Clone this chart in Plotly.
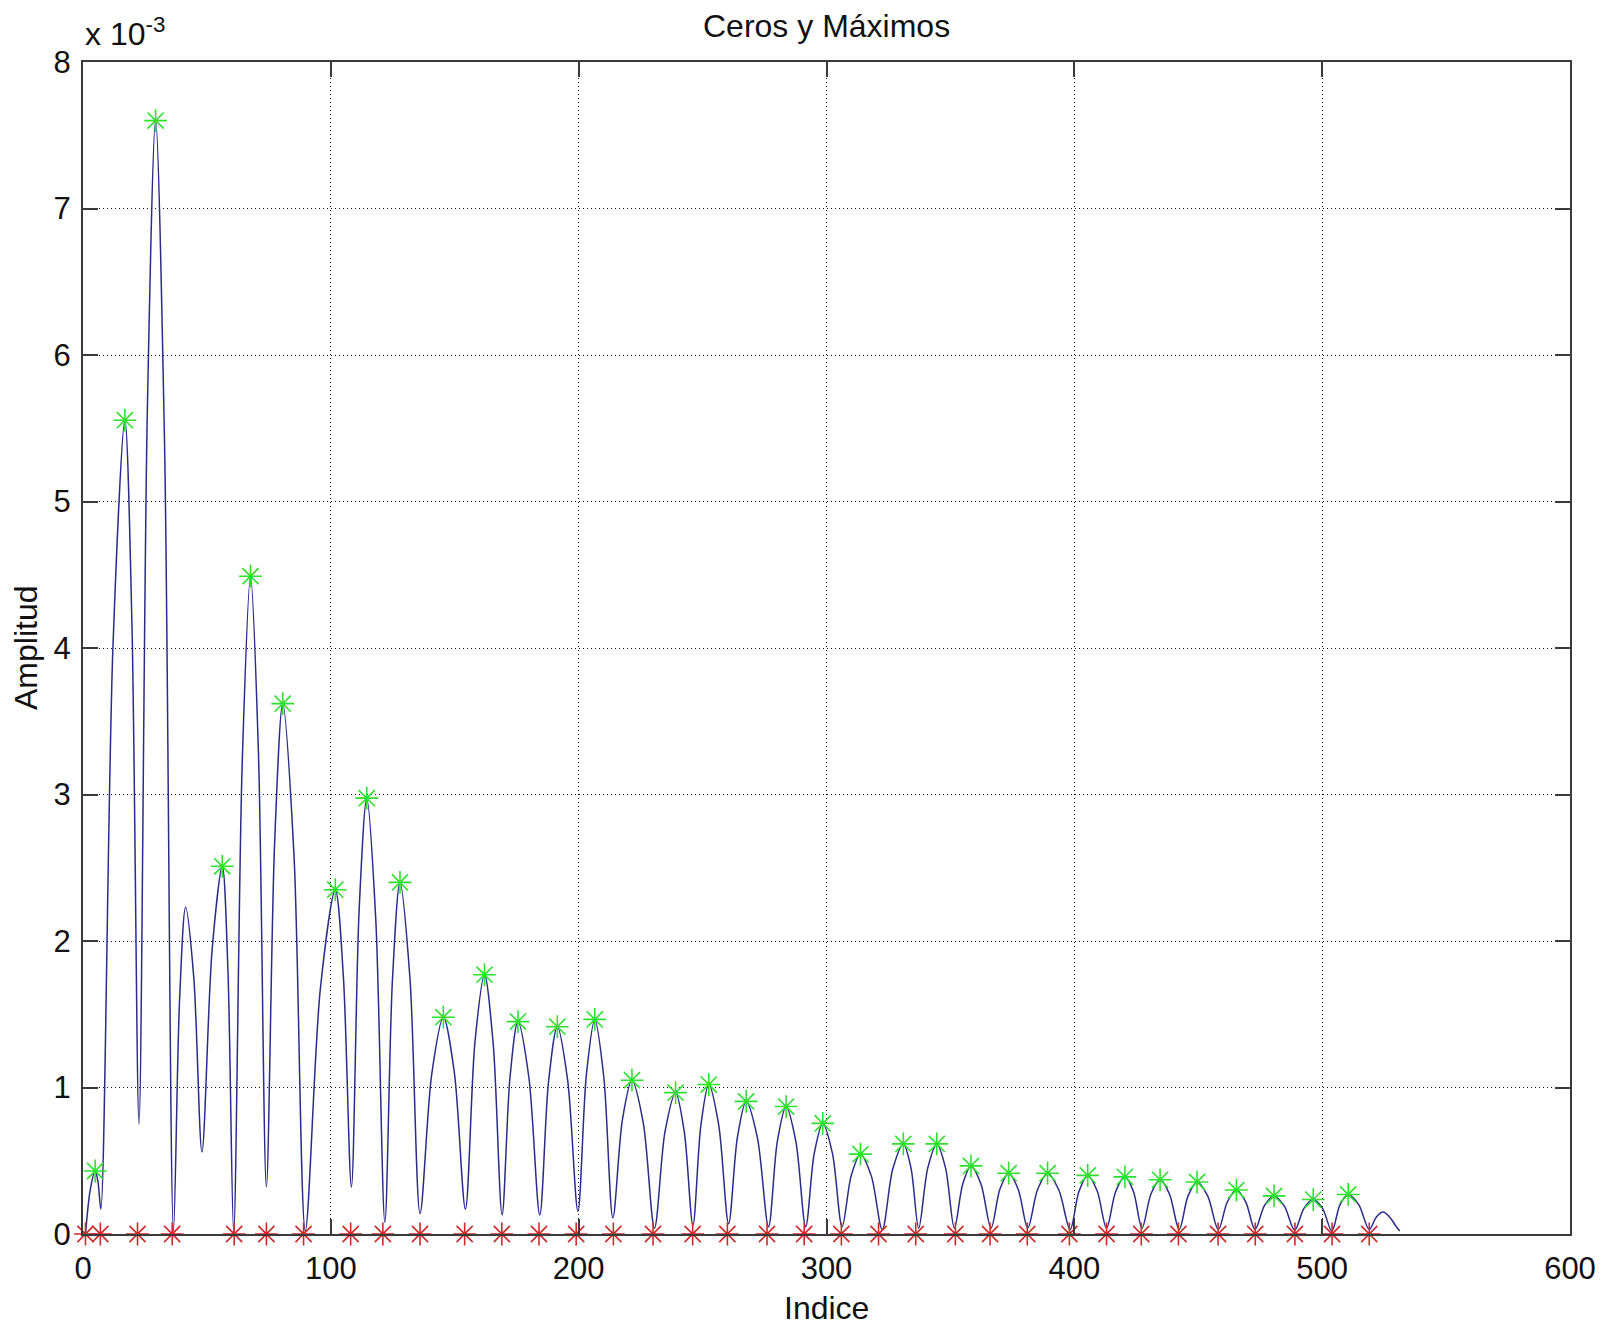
import plotly.graph_objects as go

# Rectified signal amplitude (units of 1e-3) versus sample index
signal_x = [
    1, 3.0, 4.9, 6.05, 7.2,
    12.05, 16.9, 19.75, 22.6,
    25.95, 29.3, 32.9, 36.5,
    38.95, 41.4, 44.7, 48.0,
    52.1, 56.2, 58.5, 60.8,
    64.2, 67.6, 70.8, 74.0,
    77.3, 80.6, 85.15, 89.7,
    95.75, 101.8, 105.05, 108.3,
    111.4, 114.5, 118.15, 121.8,
    124.85, 127.9, 131.95, 136.0,
    140.7, 145.4, 149.85, 154.3,
    158.15, 162.0, 165.55, 169.1,
    172.3, 175.5, 179.9, 184.3,
    187.85, 191.4, 195.55, 199.7,
    203.1, 206.5, 210.15, 213.8,
    217.65, 221.5, 226.05, 230.6,
    234.85, 239.1, 242.6, 246.1,
    249.3, 252.5, 256.5, 260.5,
    264.05, 267.6, 272.1, 276.6,
    280.15, 283.7, 287.65, 291.6,
    295.05, 298.5, 302.4, 306.3,
    310.0, 313.7, 318.1, 322.5,
    326.75, 331.0, 334.1, 337.2,
    340.85, 344.5, 348.05, 351.6,
    354.95, 358.3, 362.35, 366.4,
    369.95, 373.5, 377.35, 381.2,
    385.2, 389.2, 393.75, 398.3,
    401.85, 405.4, 409.2, 413.0,
    416.7, 420.4, 423.85, 427.3,
    430.95, 434.6, 438.45, 442.3,
    445.9, 449.5, 453.8, 458.1,
    461.75, 465.4, 469.15, 472.9,
    476.75, 480.6, 484.75, 488.9,
    492.65, 496.4, 500.15, 503.9,
    507.2, 510.5, 514.75, 519.0,
    521.8, 524.6, 527.5, 529.5, 531.3,
]
signal_y = [
    0.0, 0.31, 0.43, 0.355, 0.17,
    3.99, 5.555, 4.16, 0.75,
    5.61, 7.60, 5.40, 0.02,
    1.59, 2.23, 1.75, 0.56,
    1.94, 2.51, 1.79, 0.01,
    3.19, 4.49, 3.28, 0.32,
    2.66, 3.62, 2.58, 0.02,
    1.67, 2.35, 1.76, 0.32,
    2.205, 2.975, 2.14, 0.08,
    1.73, 2.40, 1.74, 0.14,
    1.09, 1.48, 1.10, 0.17,
    1.31, 1.77, 1.29, 0.13,
    1.07, 1.45, 1.07, 0.13,
    1.04, 1.415, 1.05, 0.155,
    1.085, 1.465, 1.07, 0.11,
    0.78, 1.05, 0.76, 0.04,
    0.70, 0.965, 0.70, 0.06,
    0.74, 1.02, 0.745, 0.07,
    0.66, 0.905, 0.66, 0.05,
    0.63, 0.87, 0.63, 0.05,
    0.55, 0.755, 0.55, 0.05,
    0.40, 0.545, 0.395, 0.03,
    0.445, 0.615, 0.45, 0.04,
    0.45, 0.615, 0.45, 0.04,
    0.34, 0.465, 0.34, 0.04,
    0.305, 0.415, 0.305, 0.04,
    0.305, 0.415, 0.30, 0.03,
    0.29, 0.40, 0.295, 0.04,
    0.29, 0.39, 0.29, 0.04,
    0.275, 0.37, 0.27, 0.03,
    0.26, 0.355, 0.26, 0.03,
    0.22, 0.30, 0.22, 0.03,
    0.195, 0.26, 0.19, 0.025,
    0.175, 0.235, 0.175, 0.02,
    0.20, 0.27, 0.20, 0.03,
    0.115, 0.15, 0.11, 0.06, 0.02,
]

# Detected maxima (green) and zero positions (red)
peak_x = [4.9, 16.9, 29.3, 56.2, 67.6, 80.6, 101.8, 114.5, 127.9, 145.4,
          162.0, 175.5, 191.4, 206.5, 221.5, 239.1, 252.5, 267.6, 283.7, 298.5,
          313.7, 331.0, 344.5, 358.3, 373.5, 389.2, 405.4, 420.4, 434.6, 449.5,
          465.4, 480.6, 496.4, 510.5]
peak_y = [0.43, 5.555, 7.60, 2.51, 4.49, 3.62, 2.35, 2.975, 2.40, 1.48,
          1.77, 1.45, 1.415, 1.465, 1.05, 0.965, 1.02, 0.905, 0.87, 0.755,
          0.545, 0.615, 0.615, 0.465, 0.415, 0.415, 0.40, 0.39, 0.37, 0.355,
          0.30, 0.26, 0.235, 0.27]
zero_x = [1, 7, 22, 36, 61, 74, 89, 108, 121, 136, 154, 169, 184, 199, 214,
          230, 246, 260, 276, 291, 306, 321, 336, 352, 366, 381, 398, 413, 427,
          442, 458, 473, 489, 504, 519]
zero_y = [0] * len(zero_x)

x_ticks = [0, 100, 200, 300, 400, 500, 600]
y_ticks = [0, 1, 2, 3, 4, 5, 6, 7, 8]

FONT = "Liberation Sans, Arial, Helvetica, sans-serif"
TICK_SIZE = 31
frame = "#3a3a3a"
GREEN = "#2ee02e"
RED = "#cc2a2a"

fig = go.Figure()
fig.add_trace(go.Scatter(
    x=signal_x, y=signal_y, mode="lines",
    line=dict(color="#2b2b8a", width=1.5, shape="spline", smoothing=0.9),
    hoverinfo="skip", showlegend=False,
))
fig.add_trace(go.Scatter(
    x=peak_x, y=peak_y, mode="markers", cliponaxis=False,
    marker=dict(symbol="asterisk-open", size=19, color=GREEN,
                line=dict(color=GREEN, width=1.6)),
    showlegend=False,
))
fig.add_trace(go.Scatter(
    x=zero_x, y=zero_y, mode="markers", cliponaxis=False,
    marker=dict(symbol="asterisk-open", size=19, color=RED,
                line=dict(color=RED, width=1.6)),
    showlegend=False,
))

axis_common = dict(
    showline=True, linecolor=frame, linewidth=2, mirror="ticks",
    ticks="inside", ticklen=15, tickwidth=1.5, tickcolor=frame,
    showgrid=True, gridcolor="#111111", gridwidth=1, griddash="1px,3px",
    zeroline=False,
    tickfont=dict(family=FONT, size=TICK_SIZE, color="#111111"),
)

fig.update_xaxes(range=[0, 600], tickvals=x_ticks, ticklabelstandoff=6,
                 **axis_common)
fig.update_yaxes(range=[0, 8], tickvals=y_ticks, ticklabelstandoff=4,
                 **axis_common)

fig.update_layout(
    width=1612, height=1327,
    margin=dict(l=83, r=42, t=62, b=93),
    plot_bgcolor="white", paper_bgcolor="white",
    font=dict(family=FONT, color="#111111"),
    annotations=[
        dict(text="Ceros y Máximos", xref="paper", yref="paper", x=0.5, y=1,
             xanchor="center", yanchor="middle", yshift=36, showarrow=False,
             font=dict(size=32, family=FONT)),
        dict(text="Indice", xref="paper", yref="paper", x=0.5, y=0,
             xanchor="center", yanchor="middle", yshift=-74, showarrow=False,
             font=dict(size=32, family=FONT)),
        dict(text="Amplitud", xref="paper", yref="paper", x=0, y=0.5,
             xanchor="center", yanchor="middle", xshift=-57, textangle=-90,
             showarrow=False, font=dict(size=32, family=FONT)),
        dict(text="x 10<sup>-3</sup>", xref="paper", yref="paper", x=0, y=1,
             xanchor="left", yanchor="bottom", yshift=8, showarrow=False,
             font=dict(size=32, family=FONT)),
    ],
)

fig.write_html("out.html")
